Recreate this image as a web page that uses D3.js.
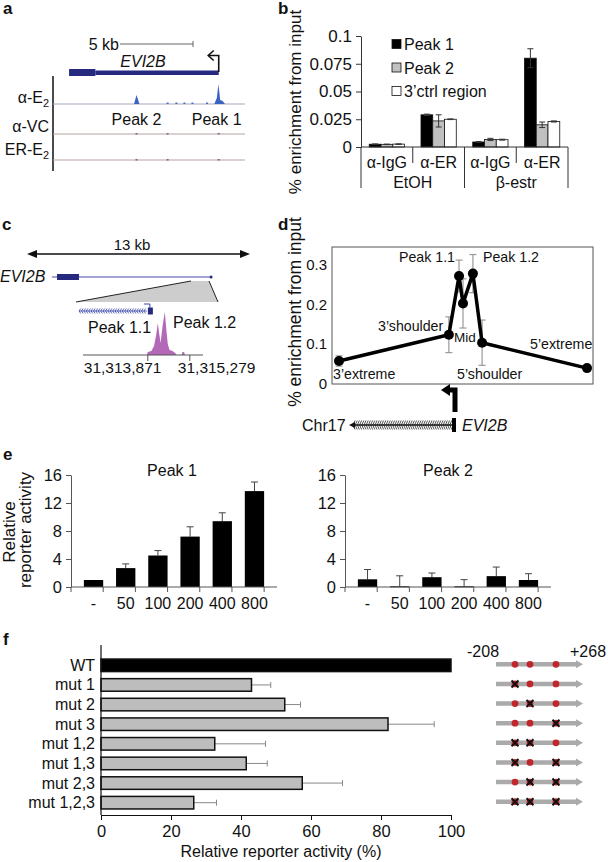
<!DOCTYPE html>
<html><head><meta charset="utf-8">
<script src="https://cdn.jsdelivr.net/npm/d3@7"></script>
<style>
body{margin:0;background:#fff}
svg{display:block}
text{font-family:"Liberation Sans",Arial,Helvetica,sans-serif;fill:#111}
</style>
</head><body>
<script>
// ================= DATA =================
// Panel a (genome browser, positions in kb from left edge of view)
const aTrackNames = [["α-E","2"],["α-VC",""],["ER-E","2"]];
const aE2Coverage = [[5.55,0],[5.72,9],[5.92,0],[11.05,0],[11.22,6],[11.33,20],[11.45,4],[11.62,3],[11.78,0]];
const aMinorSignals = [7.85,8.45,9.0,9.55,10.55];
const aGene = {start:1.1, thickEnd:2.9, tss:11.35};
const aPeakNames = ["Peak 2","Peak 1"];
const aPeakPos = [5.72,11.35];

// Panel b (ChIP)
const bCategories = ["α-IgG","α-ER","α-IgG","α-ER"];
const bTreatments = ["EtOH","β-estr"];
const bSeries = ["Peak 1","Peak 2","3’ctrl region"];
const bPeak1 = [0.0025,0.029,0.0045,0.080];
const bPeak1Err = [0.0003,0.0006,0.0004,0.0085];
const bPeak2 = [0.0024,0.0235,0.0068,0.020];
const bPeak2Err = [0.0002,0.0055,0.0010,0.0025];
const bCtrl = [0.0026,0.025,0.0066,0.023];
const bCtrlErr = [0.0002,0.0003,0.0004,0.0005];
const bYTicks = [0,0.025,0.05,0.075,0.1];
const bYTickLabels = ["0","0.025","0.05","0.075","0.1"];

// Panel c (zoomed locus)
const cCoords = [31313871,31315279];
const cCoordLabels = ["31,313,871","31,315,279"];
const cCoverage = [[31313840,0],[31313870,3],[31313990,4],[31314080,9],[31314150,20],[31314206,32],[31314250,22],[31314300,12],[31314370,30],[31314441,43],[31314490,26],[31314540,11],[31314600,5],[31314700,4],[31314790,2],[31314830,0],[31315010,0],[31315030,3],[31315090,3],[31315110,0]];
const cSmallGene = {start:31311570, end:31313840, tss:31313940};

// Panel d (ChIP tiling)
const dLabels = ["3’extreme","3’shoulder","Peak 1.1","Mid","Peak 1.2","5’shoulder","5’extreme"];
const dPositions = [0,44.3,48.4,50,54,57.7,100];
const dValues = [0.058,0.124,0.272,0.203,0.278,0.104,0.04];
const dErrors = [0.013,0.045,0.04,0.062,0.048,0.057,0];
const dYTicks = [0,0.1,0.2,0.3];

// Panel e (reporter assays)
const eDoses = ["-","50","100","200","400","800"];
const ePeak1 = [1.0,2.7,4.5,7.2,9.4,13.7];
const ePeak1Err = [0,0.6,0.7,1.4,1.2,1.3];
const ePeak2 = [1.1,0.1,1.4,0.1,1.55,1.0];
const ePeak2Err = [1.4,1.5,0.6,0.95,1.3,0.9];
const eYTicks = [0,4,8,12,16];

// Panel f (mutants)
const fConstructs = ["WT","mut 1","mut 2","mut 3","mut 1,2","mut 1,3","mut 2,3","mut 1,2,3"];
const fValues = [100,43,52.5,82,32.5,41.5,57.5,26.5];
const fErrors = [0,5.5,4.5,13.2,14.5,6,11.5,6.5];
const fMutated = [[],[1],[2],[3],[1,2],[1,3],[2,3],[1,2,3]];
const fSites = [-104,-22,120];
const fXTicks = [0,20,40,60,80,100];

// ================= DRAW =================
const svg = d3.select("body").append("svg").attr("width",608).attr("height",862);

function T(g,x,y,s,size,anchor,opts){
  const t = g.append("text").attr("x",x).attr("y",y).attr("font-size",size||16)
    .attr("text-anchor",anchor||"start").text(s);
  if(opts){ for(const k in opts) t.attr(k,opts[k]); }
  return t;
}
function sub(g,x,y,main,s,size,anchor){
  const t = g.append("text").attr("x",x).attr("y",y).attr("font-size",size).attr("text-anchor",anchor||"start");
  t.append("tspan").text(main);
  if(s) t.append("tspan").attr("font-size",size*0.68).attr("dy",4).text(s);
  return t;
}

// panel letters
[["a",3,14],["b",278,14],["c",2,230],["d",278,230],["e",3,460],["f",3,645]].forEach(d=>{
  T(svg,d[1],d[2],d[0],17,"start",{"font-weight":"bold"});
});

// ---------- Panel a ----------
{
  const g = svg.append("g");
  const x = d3.scaleLinear().domain([0,13.15]).range([53,245]);
  const trackY = [104,134,160];
  g.append("line").attr("x1",x(4.59)).attr("x2",x(9.59)).attr("y1",44).attr("y2",44).attr("stroke","#666").attr("stroke-width",1);
  g.append("line").attr("x1",x(9.59)).attr("x2",x(9.59)).attr("y1",41).attr("y2",47).attr("stroke","#666");
  T(g,x(4.59)-1,50,"5 kb",16,"end");
  g.append("rect").attr("x",x(aGene.start)).attr("width",x(aGene.thickEnd)-x(aGene.start)).attr("y",69).attr("height",7).attr("fill","#252a7e");
  g.append("rect").attr("x",x(aGene.thickEnd)).attr("width",x(aGene.tss)-x(aGene.thickEnd)).attr("y",70.5).attr("height",4.5).attr("fill","#252a7e");
  T(g,143,67,"EVI2B",16,"middle",{"font-style":"italic"});
  const tx = x(aGene.tss);
  g.append("path").attr("d",`M${tx},72 V55.5 H${tx-10}`).attr("fill","none").attr("stroke","#111").attr("stroke-width",1.6);
  g.append("path").attr("d",`M${tx-5},50.5 L${tx-10.5},55.5 L${tx-5},60.5`).attr("fill","none").attr("stroke","#111").attr("stroke-width",1.6);
  g.append("line").attr("x1",53).attr("x2",53).attr("y1",76).attr("y2",171).attr("stroke","#111").attr("stroke-width",1.5);
  trackY.forEach((y,i)=>{
    g.append("line").attr("x1",53).attr("x2",245).attr("y1",y).attr("y2",y)
      .attr("stroke", i===0 ? "#a3a8b8" : "#b8a2a2").attr("stroke-width",1);
    sub(g,49,i===0?103:(i===1?132:155),aTrackNames[i][0],aTrackNames[i][1],16,"end");
  });
  const area = d3.area().x(d=>x(d[0])).y0(104).y1(d=>104-d[1]);
  g.append("path").attr("d",area(aE2Coverage)).attr("fill","#3a62c2");
  aMinorSignals.forEach(p=>{
    g.append("rect").attr("x",x(p)-1).attr("y",102.5).attr("width",2).attr("height",1.5).attr("fill","#4a6ac8");
  });
  [trackY[1],trackY[2]].forEach(y=>{
    aPeakPos.concat([7.85]).forEach(p=>{
      g.append("rect").attr("x",x(p)-1).attr("y",y-1).attr("width",2).attr("height",1.5).attr("fill","#8a5a8a");
    });
  });
  aPeakNames.forEach((n,i)=>T(g,x(aPeakPos[i])+(i===0?0:-2),125,n,16,"middle"));
}

// ---------- Panel b ----------
{
  const g = svg.append("g");
  const x0 = d3.scaleBand().domain(d3.range(bCategories.length)).range([361,568]);
  const x1 = d3.scaleBand().domain(bSeries).range([0,x0.bandwidth()]).paddingOuter(0.7);
  const y = d3.scaleLinear().domain([0,0.1]).range([147,36]);
  const vals = [bPeak1,bPeak2,bCtrl], errs = [bPeak1Err,bPeak2Err,bCtrlErr];
  const fills = ["#000","#c0c0c0","#fff"];
  bSeries.forEach((s,si)=>{
    bCategories.forEach((c,ci)=>{
      const bx = x0(ci)+x1(s), bw = x1.bandwidth(), v = vals[si][ci], e = errs[si][ci];
      g.append("rect").attr("x",bx).attr("y",y(v)).attr("width",bw).attr("height",y(0)-y(v))
        .attr("fill",fills[si]).attr("stroke","#111").attr("stroke-width",0.8);
      const cx = bx+bw/2;
      g.append("line").attr("x1",cx).attr("x2",cx).attr("y1",y(v+e)).attr("y2",y(v-e)).attr("stroke","#333").attr("stroke-width",1);
      [v+e,v-e].forEach(q=>g.append("line").attr("x1",cx-3).attr("x2",cx+3).attr("y1",y(q)).attr("y2",y(q)).attr("stroke","#333").attr("stroke-width",1));
    });
  });
  const ax = g.append("g").attr("transform","translate(361,0)")
    .call(d3.axisLeft(y).tickValues(bYTicks).tickFormat((d,i)=>bYTickLabels[i]).tickSizeOuter(0).tickSizeInner(5).tickPadding(4));
  ax.selectAll("path,line").attr("stroke","#333");
  ax.selectAll("text").attr("font-size",17).attr("font-family",null);
  g.append("line").attr("x1",361).attr("x2",568).attr("y1",147).attr("y2",147).attr("stroke","#333");
  d3.range(bCategories.length+1).forEach(i=>{
    const xx = 361 + i*x0.bandwidth();
    g.append("line").attr("x1",xx).attr("x2",xx).attr("y1",147).attr("y2", i%2===0 ? 188 : 163).attr("stroke","#333");
  });
  bCategories.forEach((c,i)=>T(g,x0(i)+x0.bandwidth()/2,168,c,16,"middle"));
  bTreatments.forEach((t,i)=>T(g,361+(2*i+1)*x0.bandwidth(),188,t,16,"middle"));
  bSeries.forEach((s,i)=>{
    const ly = 44 + i*23.5;
    g.append("rect").attr("x",392).attr("y",ly-4.5).attr("width",9).attr("height",9).attr("fill",fills[i]).attr("stroke","#111").attr("stroke-width",0.8);
    T(g,404,ly+6,s,16);
  });
  T(g,0,0,"% enrichment from input",17,"middle",{transform:"translate(301,102) rotate(-90)"});
}

// ---------- Panel c ----------
{
  const g = svg.append("g");
  const kb = d3.scaleLinear().domain([0,13]).range([27,250]);
  g.append("line").attr("x1",kb(0)+6).attr("x2",kb(13)-6).attr("y1",254).attr("y2",254).attr("stroke","#111").attr("stroke-width",1.5);
  g.append("path").attr("d",`M${kb(0)},254 L${kb(0)+10},250 L${kb(0)+10},258 Z`).attr("fill","#111");
  g.append("path").attr("d",`M${kb(13)},254 L${kb(13)-10},250 L${kb(13)-10},258 Z`).attr("fill","#111");
  T(g,132,250,"13 kb",15,"middle");
  T(g,0,282,"EVI2B",16,"start",{"font-style":"italic"});
  g.append("line").attr("x1",kb(1.45)).attr("x2",kb(10.73)).attr("y1",277).attr("y2",277).attr("stroke","#4a4aa8").attr("stroke-width",1.2);
  g.append("rect").attr("x",kb(1.75)).attr("width",kb(3.03)-kb(1.75)).attr("y",274).attr("height",6).attr("fill","#252a7e");
  g.append("circle").attr("cx",kb(10.73)).attr("cy",277).attr("r",1.5).attr("fill","#252a7e");
  const pts = [[76,302],[kb(9.56),281],[kb(10.61),281],[218,302]];
  g.append("polygon").attr("points",pts.map(p=>p.join(",")).join(" ")).attr("fill","#cdcdcd");
  g.append("line").attr("x1",pts[0][0]).attr("y1",pts[0][1]).attr("x2",pts[1][0]).attr("y2",pts[1][1]).attr("stroke","#222").attr("stroke-width",1);
  g.append("line").attr("x1",pts[2][0]).attr("y1",pts[2][1]).attr("x2",pts[3][0]).attr("y2",pts[3][1]).attr("stroke","#222").attr("stroke-width",1);
  const x = d3.scaleLinear().domain([31311700,31315720]).range([83,203]);
  const sgY = 311;
  g.append("line").attr("x1",x(cSmallGene.start)).attr("x2",x(cSmallGene.end)).attr("y1",sgY).attr("y2",sgY).attr("stroke","#3a44a8").attr("stroke-width",0.8);
  d3.range(x(cSmallGene.start), x(cSmallGene.end)-1, 2.4).forEach(xx=>{
    g.append("path").attr("d",`M${xx+1.6},${sgY-2.5} L${xx},${sgY} L${xx+1.6},${sgY+2.5}`).attr("fill","none").attr("stroke","#3a44a8").attr("stroke-width",0.8);
  });
  g.append("rect").attr("x",x(cSmallGene.end)+1).attr("y",sgY-3.5).attr("width",5).attr("height",7).attr("fill","#252a7e");
  g.append("path").attr("d",`M${x(cSmallGene.end)+3},${sgY-3.5} V${sgY-7} H${x(cSmallGene.end)-3}`).attr("fill","none").attr("stroke","#3a44a8").attr("stroke-width",1);
  T(g,88,333,"Peak 1.1",16);
  T(g,173,328,"Peak 1.2",16);
  const area = d3.area().x(d=>x(d[0])).y0(355).y1(d=>355-d[1]);
  g.append("path").attr("d",area(cCoverage)).attr("fill","#b468b8");
  g.append("line").attr("x1",83).attr("x2",203).attr("y1",355).attr("y2",355).attr("stroke","#555").attr("stroke-width",1);
  cCoords.forEach((c,i)=>{
    g.append("line").attr("x1",x(c)).attr("x2",x(c)).attr("y1",355).attr("y2",361).attr("stroke","#555");
    T(g,i===0?x(c)-64:x(c)-12,373,cCoordLabels[i],15.5);
  });
}

// ---------- Panel d ----------
{
  const g = svg.append("g");
  const x = d3.scaleLinear().domain([0,100]).range([339,587]);
  const y = d3.scaleLinear().domain([0,0.345]).range([384,247]);
  g.append("rect").attr("x",332).attr("y",247).attr("width",261).attr("height",137).attr("fill","none").attr("stroke","#555").attr("stroke-width",1);
  dYTicks.forEach(t=>T(g,327,y(t)+5,String(t),15,"end"));
  dValues.forEach((v,i)=>{
    const e = dErrors[i]; if(!e) return;
    const cx = x(dPositions[i]);
    g.append("line").attr("x1",cx).attr("x2",cx).attr("y1",y(v+e)).attr("y2",y(v-e)).attr("stroke","#999").attr("stroke-width",1.2);
    [v+e,v-e].forEach(q=>g.append("line").attr("x1",cx-3.5).attr("x2",cx+3.5).attr("y1",y(q)).attr("y2",y(q)).attr("stroke","#999").attr("stroke-width",1.2));
  });
  const line = d3.line().x((d,i)=>x(dPositions[i])).y(d=>y(d));
  g.append("path").attr("d",line(dValues)).attr("fill","none").attr("stroke","#000").attr("stroke-width",3.5).attr("stroke-linejoin","round");
  dValues.forEach((v,i)=>g.append("circle").attr("cx",x(dPositions[i])).attr("cy",y(v)).attr("r",5).attr("fill","#000"));
  const lp = [[333,379],[378,331],[399,262],[454,342],[483,262],[457,379],[530,349]];
  dLabels.forEach((l,i)=>T(g,lp[i][0],lp[i][1],l,i===3?13.5:14.2));
  T(g,0,0,"% enrichment from input",17.5,"middle",{transform:"translate(301,312) rotate(-90)"});
  g.append("path").attr("d","M455,412 V390 H448").attr("fill","none").attr("stroke","#000").attr("stroke-width",5);
  g.append("path").attr("d","M441,390 L450,384 L450,396 Z").attr("fill","#000");
  T(g,302,431,"Chr17",16);
  const gy = 425;
  g.append("line").attr("x1",351).attr("x2",453).attr("y1",gy).attr("y2",gy).attr("stroke","#111").attr("stroke-width",1.5);
  d3.range(353,452,2.2).forEach(xx=>{
    g.append("path").attr("d",`M${xx+2},${gy-4.5} L${xx},${gy} L${xx+2},${gy+4.5}`).attr("fill","none").attr("stroke","#222").attr("stroke-width",0.8);
  });
  g.append("path").attr("d",`M349,${gy} L355,${gy-3} L355,${gy+3} Z`).attr("fill","#111");
  g.append("rect").attr("x",452).attr("y",gy-7).attr("width",4).attr("height",14).attr("fill","#000");
  T(g,462,431,"EVI2B",16,"start",{"font-style":"italic"});
}

// ---------- Panel e ----------
function drawE(x0,x1,title,titleX,vals,errs){
  const g = svg.append("g");
  const y = d3.scaleLinear().domain([0,16]).range([587,475]);
  const x = d3.scaleBand().domain(eDoses).range([x0,x1]).padding(0.4);
  eDoses.forEach((d,i)=>{
    const v = vals[i], e = errs[i], bx = x(d), cx = bx + x.bandwidth()/2;
    if(e>0){
      g.append("line").attr("x1",cx).attr("x2",cx).attr("y1",y(v+e)).attr("y2",y(v)).attr("stroke","#444").attr("stroke-width",1);
      g.append("line").attr("x1",cx-3.5).attr("x2",cx+3.5).attr("y1",y(v+e)).attr("y2",y(v+e)).attr("stroke","#444").attr("stroke-width",1);
    }
    g.append("rect").attr("x",bx).attr("y",y(v)).attr("width",x.bandwidth()).attr("height",Math.max(1,y(0)-y(v))).attr("fill","#000");
  });
  const ay = g.append("g").attr("transform",`translate(${x0},0)`)
    .call(d3.axisLeft(y).tickValues(eYTicks).tickSizeOuter(0).tickSizeInner(5).tickPadding(4));
  ay.selectAll("path,line").attr("stroke","#555");
  ay.selectAll("text").attr("font-size",16.5).attr("font-family",null);
  g.append("line").attr("x1",x0).attr("x2",x1).attr("y1",587).attr("y2",587).attr("stroke","#555");
  d3.range(eDoses.length+1).forEach(i=>{
    const xx = x0 + i*x.step();
    g.append("line").attr("x1",xx).attr("x2",xx).attr("y1",587).attr("y2",592).attr("stroke","#555");
  });
  eDoses.forEach(d=>T(g,x(d)+x.bandwidth()/2,609,d,16,"middle"));
  T(g,titleX,476,title,16,"middle");
}
drawE(71,277,"Peak 1",172,ePeak1,ePeak1Err);
drawE(345,551,"Peak 2",448,ePeak2,ePeak2Err);
T(svg,0,0,"Relative",17,"middle",{transform:"translate(15,532) rotate(-90)"});
T(svg,0,0,"reporter activity",17,"middle",{transform:"translate(31,530) rotate(-90)"});

// ---------- Panel f ----------
{
  const g = svg.append("g");
  const x = d3.scaleLinear().domain([0,100]).range([101,451]);
  const y = d3.scaleBand().domain(fConstructs).range([655.5,812.5]).paddingInner(0.36).paddingOuter(0.18);
  fConstructs.forEach((c,i)=>{
    const v = fValues[i], e = fErrors[i], by = y(c), bh = y.bandwidth(), cy = by + bh/2;
    if(e>0){
      g.append("line").attr("x1",x(v)).attr("x2",x(v+e)).attr("y1",cy).attr("y2",cy).attr("stroke","#888").attr("stroke-width",1);
      g.append("line").attr("x1",x(v+e)).attr("x2",x(v+e)).attr("y1",cy-3).attr("y2",cy+3).attr("stroke","#888").attr("stroke-width",1);
    }
    g.append("rect").attr("x",x(0)).attr("y",by).attr("width",x(v)-x(0)).attr("height",bh)
      .attr("fill", i===0 ? "#000" : "#bdbdbd").attr("stroke","#111").attr("stroke-width",1.5);
    T(g,95,cy+5.5,c,16,"end");
  });
  g.append("line").attr("x1",101).attr("x2",101).attr("y1",645).attr("y2",815).attr("stroke","#111").attr("stroke-width",1.2);
  const ax = g.append("g").attr("transform","translate(0,815)")
    .call(d3.axisBottom(x).tickValues(fXTicks).tickSizeOuter(0).tickSizeInner(5).tickPadding(5));
  ax.selectAll("path,line").attr("stroke","#111");
  ax.selectAll("text").attr("font-size",16.5).attr("font-family",null);
  T(g,281,857,"Relative reporter activity (%)",16,"middle");
  const sx = d3.scaleLinear().domain([-208,268]).range([496,583]);
  T(g,467,657,"-208",16);
  T(g,570,657,"+268",16);
  fConstructs.forEach((c,i)=>{
    const cy = y(c) + y.bandwidth()/2 - 1;
    g.append("line").attr("x1",sx(-208)).attr("x2",sx(268)-5).attr("y1",cy).attr("y2",cy).attr("stroke","#aaa").attr("stroke-width",4.5);
    g.append("path").attr("d",`M${sx(268)},${cy} L${sx(268)-7},${cy-4} L${sx(268)-7},${cy+4} Z`).attr("fill","#aaa");
    fSites.forEach((s,k)=>{
      g.append("circle").attr("cx",sx(s)).attr("cy",cy).attr("r",3.4).attr("fill","#c0272d");
      if(fMutated[i].includes(k+1)){
        const cx = sx(s);
        g.append("path").attr("d",`M${cx-3.5},${cy-3.5} L${cx+3.5},${cy+3.5} M${cx+3.5},${cy-3.5} L${cx-3.5},${cy+3.5}`)
          .attr("stroke","#111").attr("stroke-width",2);
      }
    });
  });
}
</script>
</body></html>
